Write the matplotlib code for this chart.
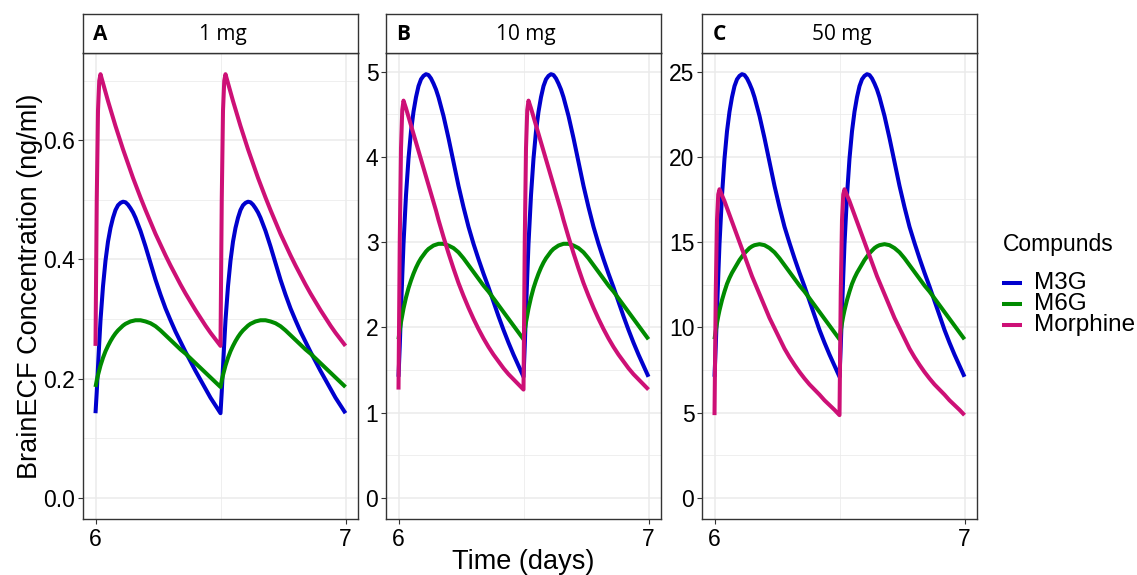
import matplotlib
matplotlib.use("Agg")
import matplotlib.pyplot as plt
from matplotlib.lines import Line2D
from matplotlib.ticker import MultipleLocator, FormatStrFormatter

plt.rcParams['font.family'] = ['Liberation Sans', 'DejaVu Sans']

# time points (days) over two dosing intervals
time_days = [6.0, 6.005, 6.01, 6.015, 6.02, 6.03, 6.04, 6.05, 6.06, 6.07, 6.08, 6.09,
             6.10, 6.11, 6.12, 6.13, 6.14, 6.15, 6.16, 6.18, 6.20, 6.22, 6.24, 6.26,
             6.28, 6.30, 6.32, 6.34, 6.36, 6.38, 6.40, 6.42, 6.44, 6.46, 6.48, 6.50,
             6.505, 6.51, 6.515, 6.52, 6.53, 6.54, 6.55, 6.56, 6.57, 6.58, 6.59,
             6.60, 6.61, 6.62, 6.63, 6.64, 6.65, 6.66, 6.68, 6.70, 6.72, 6.74, 6.76,
             6.78, 6.80, 6.82, 6.84, 6.86, 6.88, 6.90, 6.92, 6.94, 6.96, 6.98, 7.00]

# --- panel A: 1 mg ---
m3g_1mg = [0.142, 0.178, 0.22, 0.26, 0.298, 0.355, 0.398, 0.43, 0.453, 0.47, 0.483, 0.491,
           0.495, 0.497, 0.496, 0.492, 0.486, 0.479, 0.47, 0.448, 0.422, 0.394, 0.366, 0.341,
           0.318, 0.298, 0.279, 0.262, 0.245, 0.229, 0.213, 0.198, 0.183, 0.168, 0.155, 0.142,
           0.178, 0.22, 0.26, 0.298, 0.355, 0.398, 0.43, 0.453, 0.47, 0.483, 0.491,
           0.495, 0.497, 0.496, 0.492, 0.486, 0.479, 0.47, 0.448, 0.422, 0.394, 0.366, 0.341,
           0.318, 0.298, 0.279, 0.262, 0.245, 0.229, 0.213, 0.198, 0.183, 0.168, 0.155, 0.142]
m6g_1mg = [0.186, 0.197, 0.206, 0.214, 0.222, 0.235, 0.246, 0.255, 0.263, 0.27, 0.276, 0.281,
           0.285, 0.289, 0.292, 0.294, 0.296, 0.297, 0.298, 0.298, 0.296, 0.293, 0.288, 0.281,
           0.273, 0.265, 0.257, 0.249, 0.242, 0.234, 0.226, 0.218, 0.21, 0.202, 0.194, 0.186,
           0.197, 0.206, 0.214, 0.222, 0.235, 0.246, 0.255, 0.263, 0.27, 0.276, 0.281,
           0.285, 0.289, 0.292, 0.294, 0.296, 0.297, 0.298, 0.298, 0.296, 0.293, 0.288, 0.281,
           0.273, 0.265, 0.257, 0.249, 0.242, 0.234, 0.226, 0.218, 0.21, 0.202, 0.194, 0.186]
morph_1mg = [0.255, 0.50, 0.65, 0.70, 0.711, 0.696, 0.681, 0.666, 0.652, 0.638, 0.624, 0.611,
             0.598, 0.585, 0.573, 0.561, 0.549, 0.537, 0.526, 0.504, 0.483, 0.463, 0.443, 0.425,
             0.407, 0.39, 0.374, 0.358, 0.343, 0.329, 0.315, 0.302, 0.289, 0.277, 0.266, 0.255,
             0.50, 0.65, 0.70, 0.711, 0.696, 0.681, 0.666, 0.652, 0.638, 0.624, 0.611,
             0.598, 0.585, 0.573, 0.561, 0.549, 0.537, 0.526, 0.504, 0.483, 0.463, 0.443, 0.425,
             0.407, 0.39, 0.374, 0.358, 0.343, 0.329, 0.315, 0.302, 0.289, 0.277, 0.266, 0.255]

# --- panel B: 10 mg ---
m3g_10mg = [1.42, 1.78, 2.2, 2.6, 2.98, 3.55, 3.98, 4.3, 4.53, 4.7, 4.83, 4.91,
            4.95, 4.97, 4.96, 4.92, 4.86, 4.79, 4.7, 4.48, 4.22, 3.94, 3.66, 3.41,
            3.18, 2.98, 2.80, 2.63, 2.47, 2.30, 2.13, 1.97, 1.82, 1.68, 1.55, 1.42,
            1.78, 2.2, 2.6, 2.98, 3.55, 3.98, 4.3, 4.53, 4.7, 4.83, 4.91,
            4.95, 4.97, 4.96, 4.92, 4.86, 4.79, 4.7, 4.48, 4.22, 3.94, 3.66, 3.41,
            3.18, 2.98, 2.80, 2.63, 2.47, 2.30, 2.13, 1.97, 1.82, 1.68, 1.55, 1.42]
m6g_10mg = [1.86, 1.97, 2.06, 2.14, 2.22, 2.35, 2.46, 2.55, 2.63, 2.70, 2.76, 2.81,
            2.85, 2.89, 2.92, 2.94, 2.96, 2.97, 2.98, 2.98, 2.96, 2.93, 2.88, 2.81,
            2.73, 2.65, 2.57, 2.49, 2.42, 2.34, 2.26, 2.18, 2.10, 2.02, 1.94, 1.86,
            1.97, 2.06, 2.14, 2.22, 2.35, 2.46, 2.55, 2.63, 2.70, 2.76, 2.81,
            2.85, 2.89, 2.92, 2.94, 2.96, 2.97, 2.98, 2.98, 2.96, 2.93, 2.88, 2.81,
            2.73, 2.65, 2.57, 2.49, 2.42, 2.34, 2.26, 2.18, 2.10, 2.02, 1.94, 1.86]
morph_10mg = [1.27, 3.0, 4.1, 4.55, 4.66, 4.57, 4.47, 4.37, 4.27, 4.17, 4.07, 3.97,
              3.87, 3.77, 3.67, 3.57, 3.47, 3.37, 3.26, 3.06, 2.87, 2.69, 2.52, 2.37,
              2.23, 2.10, 1.98, 1.87, 1.77, 1.68, 1.60, 1.52, 1.45, 1.39, 1.33, 1.27,
              3.0, 4.1, 4.55, 4.66, 4.57, 4.47, 4.37, 4.27, 4.17, 4.07, 3.97,
              3.87, 3.77, 3.67, 3.57, 3.47, 3.37, 3.26, 3.06, 2.87, 2.69, 2.52, 2.37,
              2.23, 2.10, 1.98, 1.87, 1.77, 1.68, 1.60, 1.52, 1.45, 1.39, 1.33, 1.27]

# --- panel C: 50 mg ---
m3g_50mg = [7.1, 8.9, 11.0, 13.0, 14.9, 17.75, 19.9, 21.5, 22.65, 23.5, 24.15, 24.55,
            24.75, 24.85, 24.8, 24.6, 24.3, 23.95, 23.5, 22.4, 21.1, 19.7, 18.3, 17.05,
            15.9, 14.95, 14.05, 13.2, 12.4, 11.55, 10.7, 9.85, 9.1, 8.4, 7.75, 7.1,
            8.9, 11.0, 13.0, 14.9, 17.75, 19.9, 21.5, 22.65, 23.5, 24.15, 24.55,
            24.75, 24.85, 24.8, 24.6, 24.3, 23.95, 23.5, 22.4, 21.1, 19.7, 18.3, 17.05,
            15.9, 14.95, 14.05, 13.2, 12.4, 11.55, 10.7, 9.85, 9.1, 8.4, 7.75, 7.1]
m6g_50mg = [9.3, 9.8, 10.25, 10.65, 11.0, 11.6, 12.1, 12.55, 12.9, 13.2, 13.45, 13.7,
            13.95, 14.15, 14.35, 14.5, 14.65, 14.75, 14.82, 14.88, 14.82, 14.65, 14.4, 14.05,
            13.65, 13.25, 12.85, 12.45, 12.1, 11.7, 11.3, 10.9, 10.5, 10.1, 9.7, 9.3,
            9.8, 10.25, 10.65, 11.0, 11.6, 12.1, 12.55, 12.9, 13.2, 13.45, 13.7,
            13.95, 14.15, 14.35, 14.5, 14.65, 14.75, 14.82, 14.88, 14.82, 14.65, 14.4, 14.05,
            13.65, 13.25, 12.85, 12.45, 12.1, 11.7, 11.3, 10.9, 10.5, 10.1, 9.7, 9.3]
morph_50mg = [4.85, 12.0, 16.3, 17.8, 18.1, 17.75, 17.4, 17.0, 16.6, 16.2, 15.8, 15.4,
              15.0, 14.6, 14.2, 13.8, 13.4, 13.0, 12.65, 11.95, 11.25, 10.55, 9.95, 9.35,
              8.75, 8.25, 7.8, 7.38, 7.0, 6.65, 6.35, 6.05, 5.72, 5.44, 5.16, 4.85,
              12.0, 16.3, 17.8, 18.1, 17.75, 17.4, 17.0, 16.6, 16.2, 15.8, 15.4,
              15.0, 14.6, 14.2, 13.8, 13.4, 13.0, 12.65, 11.95, 11.25, 10.55, 9.95, 9.35,
              8.75, 8.25, 7.8, 7.38, 7.0, 6.65, 6.35, 6.05, 5.72, 5.44, 5.16, 4.85]

panel_letters = ['A', 'B', 'C']
dose_labels = ['1 mg', '10 mg', '50 mg']
compounds = ['M3G', 'M6G', 'Morphine']
colors = {'M3G': '#0000CD', 'M6G': '#008B00', 'Morphine': '#CD1076'}
panels = [
    {'M3G': m3g_1mg, 'M6G': m6g_1mg, 'Morphine': morph_1mg},
    {'M3G': m3g_10mg, 'M6G': m6g_10mg, 'Morphine': morph_10mg},
    {'M3G': m3g_50mg, 'M6G': m6g_50mg, 'Morphine': morph_50mg},
]
y_major = [0.2, 1, 5]
y_fmt = ['%.1f', '%d', '%d']

W, H = 1137, 575
fig = plt.figure(figsize=(W / 100, H / 100), dpi=100)

lefts = [83, 386, 702]
pw = 275
top, bottom = 53, 519
strip_top = 14
grey20 = '#333333'
lw = 2.9

for i in range(3):
    ax = fig.add_axes([lefts[i] / W, 1 - bottom / H, pw / W, (bottom - top) / H])
    data = panels[i]
    for c in compounds:
        ax.plot(time_days, data[c], color=colors[c], lw=lw,
                solid_joinstyle='round', solid_capstyle='butt', zorder=3)
    ymax = max(max(v) for v in data.values())
    ax.set_xlim(5.95, 7.05)
    ax.set_ylim(-0.05 * ymax, 1.05 * ymax)
    ax.xaxis.set_major_locator(MultipleLocator(1))
    ax.xaxis.set_minor_locator(MultipleLocator(0.5))
    ax.yaxis.set_major_locator(MultipleLocator(y_major[i]))
    ax.yaxis.set_minor_locator(MultipleLocator(y_major[i] / 2))
    ax.yaxis.set_major_formatter(FormatStrFormatter(y_fmt[i]))
    ax.grid(which='major', color='#EBEBEB', lw=1.1, zorder=0)
    ax.grid(which='minor', color='#EBEBEB', lw=0.55, zorder=0)
    ax.set_axisbelow(True)
    ax.tick_params(which='major', direction='out', length=3.5, width=0.8,
                   color=grey20, labelsize=16.5, labelcolor='black', pad=2)
    ax.tick_params(which='minor', length=0)
    ax.tick_params(axis='x', pad=3)
    for s in ax.spines.values():
        s.set_color(grey20)
        s.set_linewidth(1.0)

    # facet strip
    sax = fig.add_axes([lefts[i] / W, 1 - top / H, pw / W, (top - strip_top) / H])
    sax.set_xticks([])
    sax.set_yticks([])
    for s in sax.spines.values():
        s.set_color(grey20)
        s.set_linewidth(1.0)
    sax.text(0.038, 0.47, panel_letters[i], ha='left', va='center', fontsize=15,
             fontweight='bold', family=['Open Sans', 'DejaVu Sans'], transform=sax.transAxes)
    sax.text(0.51, 0.47, dose_labels[i], ha='center', va='center', fontsize=15,
             family=['Open Sans', 'DejaVu Sans'], transform=sax.transAxes)

fig.text(523 / W, 1 - 562 / H, 'Time (days)', ha='center', va='center', fontsize=19.5)
fig.text(30 / W, 1 - 286 / H, 'BrainECF Concentration (ng/ml)', ha='center',
         va='center', rotation=90, fontsize=19.5)

# legend
fig.text(1003 / W, 1 - 245 / H, 'Compunds', ha='left', va='center', fontsize=16.5)
leg_y = [283, 304, 325]
for c, yy in zip(compounds, leg_y):
    fig.add_artist(Line2D([1002 / W, 1022 / W], [1 - yy / H, 1 - yy / H],
                          color=colors[c], lw=lw, solid_capstyle='butt'))
    fig.text(1034 / W, 1 - yy / H, c, ha='left', va='center', fontsize=17.5)

fig.savefig('out.png', dpi=100)
